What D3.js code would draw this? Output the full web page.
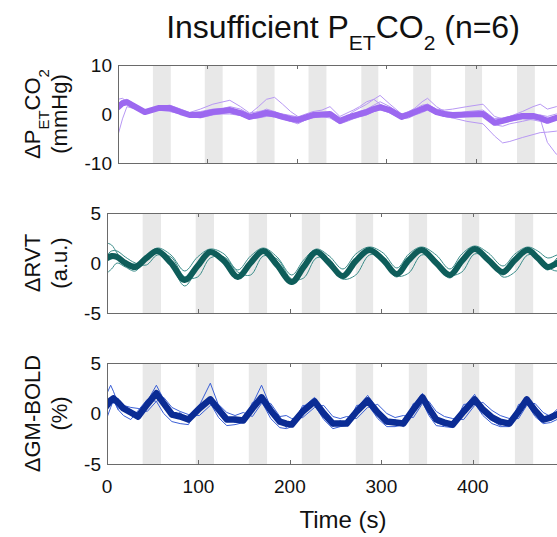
<html>
<head>
<meta charset="utf-8">
<script src="https://cdn.jsdelivr.net/npm/d3@7"></script>
<style>
  body { margin: 0; background: #fff; }
  text { font-family: "Liberation Sans", Arial, sans-serif; fill: #111; }
</style>
</head>
<body>
<svg id="chart" width="557" height="537"></svg>
<script>
// ---- data ----
var timeTicks = [0, 100, 200, 300, 400, 500];
var stimOn  = [39, 97, 155, 213, 272, 330, 388, 446, 504];
var stimOff = [59, 117, 175, 233, 291, 350, 407, 466, 524];

// end-tidal CO2
var tP = [0,5,10,20,30,45,58,70,80,92,106,125,137,147,157,166,175,184,193,201,210,218,228,237,248,256,263,270,278,286,293,304,317,325,332,340,346,356,365,374,390,408,421,430,438,452,464,472,480,490,500];
var meanP = [1.4,2.2,2.4,1.4,0.4,1.2,1.2,0.4,-0.2,-0.2,0.4,0.8,0.2,-0.6,-0.2,0.2,-0.1,-0.6,-1.0,-1.2,-0.7,-0.2,-0.1,0,-1.4,-0.8,-0.4,0,0.4,1.0,1.4,0.8,-0.6,-0.1,0.4,1.0,1.4,0.4,0,-0.2,-0.1,0,-1.8,-1.4,-1.0,-0.4,-0.4,-0.8,-1.4,-0.8,-0.4];
var subjP = [
  [-4.3,-1.0,1.5,1.0,0.5,1.0,1.5,0.8,0.0,-0.5,0.0,0.5,0.0,-1.0,-0.8,-0.5,-0.2,-0.8,-1.5,-1.8,-1.2,-0.5,-0.6,-0.8,-2.0,-1.5,-1.0,-0.6,-0.2,0.5,1.0,0.2,-1.0,-0.5,0.0,0.6,1.0,0.0,-0.5,-0.8,-1.5,-2.0,-4.5,-5.9,-5.6,-4.8,-4.2,-3.8,-3.7,-3.5,-3.0],
  [3.0,3.2,2.5,1.5,0.8,1.5,1.8,1.0,0.3,0.5,1.0,1.2,0.5,-0.3,0.3,1.0,0.5,-0.3,-0.8,-1.0,-0.3,0.2,0.2,0.3,-1.2,-0.5,0.0,0.5,1.0,1.8,2.5,1.5,-0.2,0.5,1.0,1.8,2.0,0.8,0.3,0.0,0.3,0.5,-1.0,-0.8,-0.5,0.0,0.0,-1.0,-5.8,-8.2,-8.5],
  [2.0,2.8,3.0,1.8,0.5,1.0,1.0,0.0,-0.5,-0.3,0.5,1.5,1.0,0.0,1.5,3.0,3.4,2.0,0.5,-0.5,-0.8,-0.5,-0.3,0.0,-1.0,-0.5,0.5,1.2,2.0,3.0,3.8,2.0,0.0,0.5,1.2,2.5,3.2,1.5,0.5,0.0,0.5,0.8,-1.0,-1.0,-0.5,0.5,1.5,2.0,1.0,1.5,2.2],
  [1.0,1.8,2.0,1.0,0.2,1.5,0.8,0.2,-0.5,-0.8,-0.2,0.3,-0.3,-1.0,-0.5,-0.3,-0.6,-1.0,-1.5,-2.0,-1.2,-0.8,-0.5,-0.3,-1.8,-1.0,-0.8,-0.5,0.0,0.5,0.8,0.3,-1.0,-0.8,-0.2,0.3,0.8,0.0,-0.5,-0.8,-0.5,-0.3,-2.0,-1.8,-1.5,-1.0,-1.2,-1.5,-1.8,-1.0,-0.5],
  [1.5,2.5,2.8,1.6,0.8,0.8,0.5,0.0,0.3,1.0,2.0,2.8,1.5,0.2,0.5,0.8,0.3,0.0,-0.3,-0.6,0.0,0.5,0.8,1.5,-0.5,0.2,0.8,1.5,2.5,3.0,2.0,1.0,-0.3,0.0,0.5,1.5,2.0,1.0,0.8,1.0,1.5,2.0,-0.5,-1.0,-1.2,-0.8,-0.5,-0.2,-0.5,0.0,0.5],
  [1.0,2.0,2.2,1.2,0.0,1.3,1.5,0.5,-0.3,-0.5,0.0,0.0,-0.3,-0.8,-0.3,0.0,0.0,-0.5,-1.0,-1.5,-1.0,-0.4,-0.4,-0.5,-1.6,-1.2,-0.5,0.0,0.2,0.8,1.0,0.4,-0.8,-0.3,0.2,0.6,1.2,0.3,0.0,-0.2,-0.3,-0.5,-2.2,-2.5,-2.0,-1.5,-1.0,-1.2,-1.5,-1.2,-1.0]
];

// respiratory volume per time
var tR = [0,5,11,20,31,43,55,70,85,99,113,128,143,157,171,186,202,215,229,243,258,272,287,302,317,330,344,360,375,388,402,417,433,446,460,471,482,492,500];
var meanR = [0.5,0.7,0.6,0.0,-0.4,0.5,1.2,0.0,-1.7,-0.3,1.1,0.2,-1.4,0.0,1.2,-0.2,-1.9,-0.4,1.1,0.0,-1.3,0.2,1.3,0.3,-1.1,0.3,1.3,0.0,-1.2,0.2,1.4,0.3,-0.9,0.3,1.3,0.5,-0.4,0.0,0.4];
var subjR = [
  [2.0,1.8,1.0,-0.2,-0.6,0.3,1.0,-0.2,-2.3,-0.5,1.0,0.0,-1.6,0.0,1.1,-0.3,-2.1,-0.5,1.0,-0.2,-1.6,0.0,1.2,0.0,-1.4,0.2,1.2,-0.2,-1.5,0.0,1.3,0.2,-1.2,0.2,1.2,0.3,-0.7,0.5,1.0],
  [-1.0,-0.6,0.0,-0.4,-0.8,0.6,1.5,0.8,-0.8,0.6,1.4,0.9,-0.7,0.7,1.5,0.6,-1.2,0.3,1.4,0.7,-0.6,0.9,1.6,1.0,-0.5,0.9,1.6,0.8,-0.6,0.9,1.7,1.0,-0.3,0.9,1.6,1.2,0.5,0.8,1.0],
  [0.8,1.2,1.2,0.6,0.0,-0.2,0.8,0.6,-1.4,-1.4,0.5,0.6,-0.9,-1.2,0.7,0.4,-1.6,-1.5,0.5,0.4,-1.6,-1.2,0.8,0.6,-1.3,-1.0,0.8,0.3,-1.2,-0.9,0.9,0.5,-1.4,-0.9,0.8,0.7,-0.4,-0.8,-0.4],
  [0.3,0.5,0.4,-0.1,-0.3,0.7,1.3,0.2,-1.4,-0.2,1.2,0.3,-1.3,0.1,1.3,0.0,-1.8,-0.2,1.2,0.2,-1.1,0.4,1.4,0.4,-1.0,0.4,1.4,0.1,-1.2,0.3,1.4,0.4,-0.8,0.4,1.4,0.6,-0.3,0.1,0.5],
  [0.2,0.4,0.5,0.2,-0.1,0.5,1.0,-0.1,-1.6,-0.4,1.0,0.1,-1.5,-0.1,1.1,-0.3,-2.0,-0.5,1.0,0.0,-1.3,0.1,1.2,0.4,-0.9,0.3,1.2,-0.1,-1.3,0.1,1.3,0.3,-1.0,0.3,1.2,0.4,-0.5,-0.3,0.0],
  [0.6,0.8,0.7,0.0,-0.5,0.4,1.1,0.0,-1.8,-0.3,1.1,0.2,-1.4,0.0,1.2,-0.1,-1.9,-0.4,1.1,0.0,-1.2,0.2,1.3,0.2,-1.1,0.2,1.3,0.0,-1.2,0.2,1.4,0.3,-0.9,0.2,1.3,0.5,-0.6,0.0,0.4]
];

// grey-matter BOLD
var tB = [0,4,7,12,18,26,34,44,54,62,71,80,89,101,113,122,131,140,149,159,169,179,189,196,202,214,227,237,247,255,262,273,285,296,306,315,324,335,345,352,360,369,378,390,402,411,421,430,440,450,459,468,477,485,492,500];
var meanB = [0.8,1.3,1.5,1.1,0.5,0.1,-0.3,0.9,2.0,1.0,-0.1,-0.3,-0.6,0.5,1.4,0.4,-0.6,-0.6,-0.7,0.5,1.6,0.3,-0.8,-1.0,-1.1,0.2,1.2,0.0,-1.0,-1.0,-1.0,0.2,1.3,0.1,-0.8,-0.9,-1.0,0.4,1.6,0.5,-0.6,-0.9,-1.1,0.2,1.4,0.4,-0.4,-0.8,-1.0,0.2,1.4,0.3,-0.6,-0.4,-0.1,0.2];
var subjB = [
  [2.0,2.8,2.2,1.0,0.6,0.0,-0.6,1.2,2.8,1.4,0.2,-0.1,-0.9,0.8,3.0,0.8,-0.4,-0.9,-0.5,0.9,2.8,0.6,-0.5,-1.4,-0.8,0.6,1.6,-0.2,-1.3,-0.7,-1.2,0.5,1.8,0.4,-1.1,-0.6,-1.3,0.8,2.0,0.3,-0.9,-1.2,-0.8,0.6,1.9,0.1,-0.7,-1.2,-0.7,0.6,1.7,0.5,-0.9,-0.2,0.4,0.6],
  [0.3,1.0,1.8,0.4,-0.2,-0.6,0.3,1.4,1.2,0.0,-0.8,-1.0,-1.1,0.9,1.0,-0.4,-1.2,-1.1,-0.9,1.1,1.2,-0.5,-1.4,-1.5,-1.3,0.8,0.8,-0.6,-1.5,-1.3,-1.2,0.8,0.9,-0.5,-1.3,-1.3,-1.1,1.0,1.1,-0.2,-1.2,-1.3,-1.4,0.9,1.0,-0.2,-1.0,-1.3,-1.3,0.9,1.0,-0.3,-1.0,-0.9,-0.6,-0.2],
  [1.2,1.6,1.0,1.5,0.2,0.4,-0.5,1.1,2.2,0.8,-0.4,0.1,-0.8,0.7,1.6,0.6,-0.8,-0.5,-0.9,0.8,1.8,0.2,-0.6,-1.2,-1.0,0.4,1.4,-0.3,-1.1,-0.8,-0.9,0.3,1.5,0.0,-1.0,-0.8,-1.1,0.6,1.8,0.2,-0.8,-1.1,-1.0,0.4,1.6,0.3,-0.6,-0.9,-1.0,0.4,1.6,0.2,-0.8,-0.5,0.1,0.3],
  [-0.4,0.6,1.3,0.4,0.8,0.6,0.5,0.2,1.2,1.6,0.6,0.2,-0.1,-0.2,0.8,0.9,0.1,-0.2,0.1,-0.3,1.0,1.0,-0.3,-0.2,-0.5,-0.4,0.6,0.8,-0.3,-0.5,-0.3,-0.5,0.6,0.9,0.0,-0.4,-0.2,-0.4,1.0,1.2,0.2,-0.3,-0.5,-0.6,0.8,1.1,0.3,-0.2,-0.5,-0.5,0.8,1.0,0.1,-0.3,0.2,0.5],
  [1.4,1.1,1.7,1.3,0.3,0.3,-0.3,0.9,2.3,0.9,-0.2,-0.2,-0.7,0.6,1.5,0.4,-0.7,-0.6,-0.8,0.6,1.7,0.3,-0.9,-1.1,-1.2,0.3,1.3,0.0,-1.0,-1.0,-1.1,0.3,1.4,0.1,-0.8,-0.9,-1.0,0.5,1.7,0.4,-0.7,-0.9,-1.1,0.3,1.5,0.4,-0.4,-0.8,-1.0,0.3,1.5,0.3,-0.7,-0.4,-0.1,0.2],
  [0.6,1.4,1.2,0.8,0.4,0.2,-0.2,0.8,1.8,1.0,0.1,-0.3,-0.5,0.4,1.3,0.3,-0.5,-0.7,-0.6,0.4,1.5,0.2,-0.7,-0.9,-1.1,0.2,1.2,0.1,-0.9,-1.0,-1.0,0.1,1.2,0.2,-0.8,-0.8,-1.0,0.3,1.5,0.6,-0.6,-1.0,-1.0,0.1,1.3,0.4,-0.4,-0.8,-1.0,0.1,1.3,0.3,-0.6,-0.5,-0.2,0.1]
];

// ---- drawing ----
var W = 557, H = 537;
var svg = d3.select("#chart");
svg.append("rect").attr("width", W).attr("height", H).attr("fill", "#fff");

var xMax = 550;

var panels = [
  { id: "co2", times: tP, mean: meanP, subj: subjP, yDom: [-10, 10], yTicks: [-10, 0, 10],
    left: 118, right: 610, top: 65, bottom: 163,
    thin: "#b898f4", thick: "#9c68f0", thickW: 6, curve: d3.curveLinear,
    label1: ["ΔP", "ET", "CO", "2"], label2: "(mmHg)" },
  { id: "rvt", times: tR, mean: meanR, subj: subjR, yDom: [-5, 5], yTicks: [-5, 0, 5],
    left: 107, right: 610, top: 213, bottom: 313,
    thin: "#3a8c89", thick: "#0e5d5a", thickW: 6, curve: d3.curveCatmullRom,
    label1: ["ΔRVT"], label2: "(a.u.)" },
  { id: "bold", times: tB, mean: meanB, subj: subjB, yDom: [-5, 5], yTicks: [-5, 0, 5],
    left: 107, right: 610, top: 363, bottom: 464,
    thin: "#3a5fd6", thick: "#0b2c94", thickW: 6.5, curve: d3.curveLinear,
    label1: ["ΔGM-BOLD"], label2: "(%)", xLabels: true }
];

panels.forEach(function (p) {
  var x = d3.scaleLinear().domain([0, xMax]).range([p.left, p.right]);
  var y = d3.scaleLinear().domain(p.yDom).range([p.bottom, p.top]);
  var g = svg.append("g");

  g.append("clipPath").attr("id", "clip-" + p.id)
    .append("rect")
    .attr("x", p.left).attr("y", p.top)
    .attr("width", p.right - p.left).attr("height", p.bottom - p.top);

  var inner = g.append("g").attr("clip-path", "url(#clip-" + p.id + ")");

  // stimulus blocks
  inner.selectAll("rect.blk")
    .data(d3.range(stimOn.length))
    .enter().append("rect")
    .attr("class", "blk")
    .attr("x", function (i) { return x(stimOn[i]); })
    .attr("width", function (i) { return x(stimOff[i]) - x(stimOn[i]); })
    .attr("y", p.top)
    .attr("height", p.bottom - p.top)
    .attr("fill", "#e8e8e8");

  var line = d3.line()
    .x(function (d, i) { return x(p.times[i]); })
    .y(function (d) { return y(d); })
    .curve(p.curve);

  inner.selectAll("path.subj")
    .data(p.subj)
    .enter().append("path")
    .attr("class", "subj")
    .attr("d", line)
    .attr("fill", "none")
    .attr("stroke", p.thin)
    .attr("stroke-width", 1);

  inner.append("path")
    .attr("d", line(p.mean))
    .attr("fill", "none")
    .attr("stroke", p.thick)
    .attr("stroke-width", p.thickW)
    .attr("stroke-linejoin", "round")
    .attr("stroke-linecap", "round");

  // box
  g.append("rect")
    .attr("x", p.left + 0.5).attr("y", p.top + 0.5)
    .attr("width", p.right - p.left).attr("height", p.bottom - p.top)
    .attr("fill", "none").attr("stroke", "#6a6a6a").attr("stroke-width", 1);

  // inward ticks
  var xt = timeTicks.filter(function (t) { return t > 0; });
  g.selectAll("line.xb").data(xt).enter().append("line")
    .attr("x1", function (d) { return Math.round(x(d)) + 0.5; })
    .attr("x2", function (d) { return Math.round(x(d)) + 0.5; })
    .attr("y1", p.bottom).attr("y2", p.bottom - 4)
    .attr("stroke", "#6a6a6a");
  g.selectAll("line.xt").data(xt).enter().append("line")
    .attr("x1", function (d) { return Math.round(x(d)) + 0.5; })
    .attr("x2", function (d) { return Math.round(x(d)) + 0.5; })
    .attr("y1", p.top).attr("y2", p.top + 4)
    .attr("stroke", "#6a6a6a");

  // y tick labels
  g.selectAll("text.yt").data(p.yTicks).enter().append("text")
    .attr("x", p.left - 6)
    .attr("y", function (d) { return y(d); })
    .attr("dy", "0.36em")
    .attr("text-anchor", "end")
    .style("font-size", "19px")
    .text(function (d) { return d; });

  if (p.xLabels) {
    // only the labels that fall inside the cropped figure
    g.selectAll("text.xt").data(timeTicks.filter(function (d) { return x(d) + 16 < W; }))
      .enter().append("text")
      .attr("x", function (d) { return x(d); })
      .attr("y", p.bottom + 29)
      .attr("text-anchor", "middle")
      .style("font-size", "19px")
      .text(function (d) { return d; });
  }

  // y label (two lines, rotated)
  var cy = (p.top + p.bottom) / 2;
  var t1 = svg.append("text")
    .attr("transform", "translate(40," + cy + ") rotate(-90)")
    .attr("text-anchor", "middle")
    .style("font-size", "22px");
  p.label1.forEach(function (s, i) {
    var ts = t1.append("tspan").text(s);
    if (i % 2 === 1) ts.attr("baseline-shift", "sub").style("font-size", "15px");
  });
  svg.append("text")
    .attr("transform", "translate(67," + cy + ") rotate(-90)")
    .attr("text-anchor", "middle")
    .style("font-size", "22px")
    .text(p.label2);
});

// title
var title = svg.append("text")
  .attr("x", 343).attr("y", 38)
  .attr("text-anchor", "middle")
  .style("font-size", "32px");
title.append("tspan").text("Insufficient P");
title.append("tspan").attr("baseline-shift", "sub").style("font-size", "21px").text("ET");
title.append("tspan").text("CO");
title.append("tspan").attr("baseline-shift", "sub").style("font-size", "21px").text("2");
title.append("tspan").text(" (n=6)");

// x axis label
svg.append("text")
  .attr("x", 343).attr("y", 528)
  .attr("text-anchor", "middle")
  .style("font-size", "24px")
  .text("Time (s)");
</script>
</body>
</html>
